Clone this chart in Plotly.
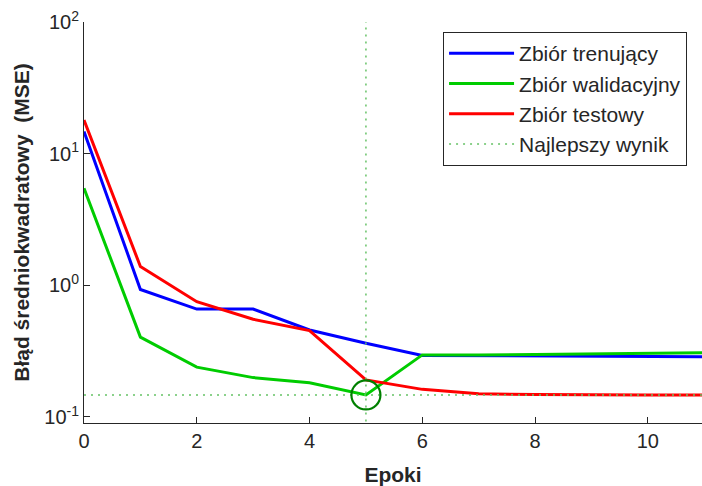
import plotly.graph_objects as go

epochs = [0, 1, 2, 3, 4, 5, 6, 7, 8, 9, 10, 11]
train_mse = [14.7, 0.93, 0.66, 0.66, 0.458, 0.363, 0.293, 0.291, 0.290, 0.289, 0.288, 0.287]
val_mse = [5.46, 0.404, 0.239, 0.199, 0.182, 0.147, 0.296, 0.295, 0.298, 0.300, 0.304, 0.307]
test_mse = [18.0, 1.39, 0.751, 0.552, 0.453, 0.191, 0.162, 0.150, 0.148, 0.147, 0.147, 0.147]
best_epoch = 5
best_val = 0.147
ytick_vals = [0.1, 1, 10, 100]
ytick_text = ["10<sup>-1</sup>", "10<sup>0</sup>", "10<sup>1</sup>", "10<sup>2</sup>"]
xtick_vals = [0, 2, 4, 6, 8, 10]

names = ["Zbiór trenujący", "Zbiór walidacyjny", "Zbiór testowy", "Najlepszy wynik"]
FONT = "Liberation Sans, Arial, sans-serif"
TXT = "#262626"

fig = go.Figure()
fig.add_trace(go.Scatter(x=epochs, y=train_mse, mode="lines", name=names[0],
                         line=dict(color="#0000ff", width=3)))
fig.add_trace(go.Scatter(x=epochs, y=val_mse, mode="lines", name=names[1],
                         line=dict(color="#00cc00", width=3)))
fig.add_trace(go.Scatter(x=epochs, y=test_mse, mode="lines", name=names[2],
                         line=dict(color="#ff0000", width=3)))
fig.add_trace(go.Scatter(x=[0, 11, None, best_epoch, best_epoch],
                         y=[best_val, best_val, None, 0.05, 100],
                         mode="lines", name=names[3],
                         line=dict(color="#66c266", width=1.5, dash="2px,5px")))
fig.add_trace(go.Scatter(x=[best_epoch], y=[best_val], mode="markers", showlegend=False,
                         marker=dict(symbol="circle-open", size=29, color="#008000",
                                     line=dict(color="#008000", width=2.2))))

fig.update_layout(
    width=702, height=486,
    margin=dict(l=84, r=0, t=22, b=63),
    paper_bgcolor="white", plot_bgcolor="white",
    font=dict(family=FONT, color=TXT),
    legend=dict(x=0.581, y=0.975, xanchor="left", yanchor="top",
                bgcolor="white", bordercolor=TXT, borderwidth=1,
                font=dict(size=21, color=TXT), itemwidth=65,
                tracegroupgap=0),
    showlegend=True,
)
fig.update_xaxes(range=[0, 10.96], tickvals=xtick_vals, ticks="inside", ticklen=6,
                 tickcolor=TXT, showline=True, linecolor=TXT, linewidth=1,
                 showgrid=False, zeroline=False, tickfont=dict(size=20, color=TXT),
                 title=dict(text="<b>Epoki</b>", font=dict(size=21, color=TXT), standoff=16))
fig.update_yaxes(type="log", range=[-1.046, 2.0], tickvals=ytick_vals, ticktext=ytick_text,
                 ticks="inside", ticklen=6, tickcolor=TXT, showline=True,
                 linecolor=TXT, linewidth=1, showgrid=False, zeroline=False,
                 tickfont=dict(size=20, color=TXT),
                 title=dict(text="<b>Błąd średniokwadratowy  (MSE)</b>",
                            font=dict(size=21, color=TXT), standoff=8))

fig.write_html("out.html")
